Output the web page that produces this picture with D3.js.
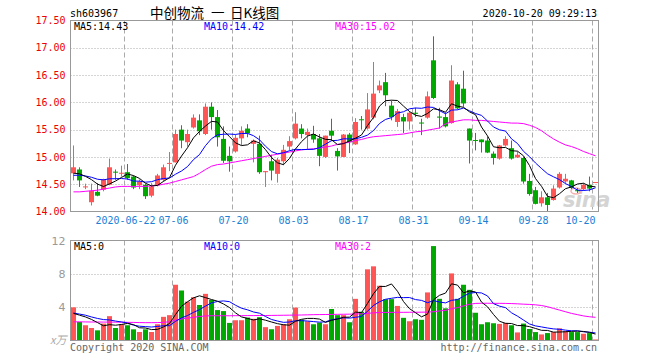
<!DOCTYPE html>
<html><head><meta charset="utf-8">
<script src="https://cdn.jsdelivr.net/npm/d3@7/dist/d3.min.js"></script>
<style>body{margin:0;background:#fff}svg{display:block}</style>
</head><body><svg id="c" width="660" height="360"></svg>
<script>
const dates = ["06-09","06-10","06-11","06-12","06-15","06-16","06-17","06-18","06-19","06-22","06-23","06-24","06-29","06-30",
"07-01","07-02","07-03","07-06","07-07","07-08","07-09","07-10","07-13","07-14","07-15","07-16","07-17","07-20","07-21","07-22","07-23","07-24","07-27","07-28","07-29","07-30","07-31",
"08-03","08-04","08-05","08-06","08-07","08-10","08-11","08-12","08-13","08-14","08-17","08-18","08-19","08-20","08-21","08-24","08-25","08-26","08-27","08-28","08-31",
"09-01","09-02","09-03","09-04","09-07","09-08","09-09","09-10","09-11","09-14","09-15","09-16","09-17","09-18","09-21","09-22","09-23","09-24","09-25","09-28","09-29","09-30",
"10-09","10-12","10-13","10-14","10-15","10-16","10-19","10-20"];
const open  = [14.70,14.77,14.45,14.17,14.36,14.40,14.49,14.73,14.70,14.72,14.64,14.48,14.49,14.29,14.48,14.58,14.88,14.90,15.50,15.27,15.54,15.67,15.42,15.92,15.73,15.33,15.02,15.10,15.34,15.52,15.24,15.24,14.72,14.92,14.69,14.92,15.19,15.34,15.52,15.40,15.42,15.34,15.00,15.48,15.11,15.00,15.41,15.23,15.69,15.52,15.72,16.22,16.37,15.94,15.64,15.73,15.65,15.81,15.63,15.72,16.77,15.74,15.73,15.62,16.33,16.25,15.52,15.31,15.32,15.30,15.06,14.97,15.21,15.16,14.99,14.98,14.56,14.39,14.15,14.26,14.21,14.44,14.55,14.57,14.39,14.41,14.49,14.54];
const high  = [15.21,14.81,14.51,14.51,14.52,14.60,14.97,14.77,14.84,14.87,14.66,14.59,14.51,14.52,14.69,14.86,15.09,15.50,15.58,15.50,15.78,15.78,15.98,16.00,15.86,15.56,15.19,15.41,15.56,15.60,15.32,15.39,14.74,15.04,14.98,15.22,15.38,15.82,15.60,15.52,15.57,15.42,15.39,15.70,15.16,15.42,15.44,15.71,15.75,16.17,16.74,16.40,16.54,16.03,15.88,15.79,15.84,15.90,15.70,16.20,17.21,15.90,15.81,16.68,16.37,16.58,15.52,15.44,15.32,15.37,15.10,15.22,15.38,15.30,15.10,15.00,14.69,14.45,14.37,14.34,14.48,14.72,14.69,14.58,14.43,14.52,14.64,14.54];
const low   = [14.57,14.45,14.41,14.11,14.28,14.37,14.48,14.58,14.64,14.58,14.41,14.41,14.23,14.26,14.46,14.55,14.74,14.90,15.16,15.19,15.52,15.40,15.40,15.50,15.19,14.89,14.73,15.08,15.21,15.36,14.90,14.69,14.45,14.57,14.53,14.85,15.12,15.32,15.34,15.13,15.26,14.83,14.98,15.29,14.75,15.00,15.07,15.22,15.50,15.50,15.69,16.17,15.93,15.67,15.55,15.44,15.50,15.73,15.40,15.70,16.06,15.52,15.54,15.61,15.87,15.92,14.88,15.12,15.08,15.07,14.86,14.95,15.19,14.95,14.98,14.51,14.29,14.13,14.09,14.01,14.20,14.42,14.51,14.41,14.34,14.38,14.37,14.54];
const close = [14.81,14.57,14.46,14.38,14.29,14.59,14.81,14.72,14.71,14.61,14.44,14.55,14.28,14.46,14.66,14.81,14.89,15.42,15.30,15.42,15.72,15.47,15.92,15.73,15.36,14.93,14.92,15.35,15.48,15.43,15.30,14.72,14.74,14.75,14.95,15.13,15.29,15.61,15.42,15.46,15.32,15.02,15.39,15.39,15.01,15.41,15.27,15.64,15.68,15.87,16.16,16.31,16.13,15.73,15.84,15.65,15.81,15.79,15.62,16.11,16.08,15.72,15.56,16.40,15.89,15.98,15.30,15.30,15.27,15.08,14.98,15.21,15.33,14.97,15.04,14.55,14.32,14.14,14.26,14.12,14.42,14.69,14.60,14.43,14.38,14.49,14.42,14.54];
const volume = [3.98,2.23,1.83,1.50,1.22,2.03,2.92,1.50,1.95,1.83,1.34,1.02,1.34,1.02,1.95,2.84,3.04,6.69,6.00,4.67,5.20,4.26,5.60,4.87,3.65,3.53,2.11,2.43,2.43,2.75,2.60,2.80,1.60,1.35,1.75,1.95,2.55,3.95,2.50,2.30,1.95,2.15,1.95,3.78,3.04,3.04,2.19,5.00,3.45,8.54,8.90,6.57,4.96,4.96,4.15,2.72,2.31,2.55,2.48,5.77,11.33,5.00,3.86,8.05,5.00,6.69,6.08,3.33,1.95,2.19,2.07,1.99,2.11,1.83,0.97,2.03,1.38,1.01,0.73,0.89,1.01,1.46,1.14,1.01,1.01,0.81,0.89,0.12];
// closes / volumes of the 9 sessions before the window (for the moving averages)
const prevClose  = [14.55,14.60,14.62,14.65,14.70,14.62,14.70,14.68,14.70];
const prevVolume = [3.5,3.2,3.6,3.0,3.4,3.3,2.9,3.0,3.1];
const priceMA30 = [14.36,14.36,14.37,14.38,14.39,14.41,14.43,14.45,14.46,14.46,14.46,14.46,14.46,14.47,14.48,14.50,14.52,14.55,14.58,14.61,14.64,14.70,14.77,14.83,14.86,14.87,14.89,14.91,14.93,14.95,14.97,14.99,15.01,15.03,15.05,15.07,15.09,15.11,15.13,15.14,15.15,15.16,15.18,15.20,15.23,15.25,15.27,15.30,15.32,15.35,15.37,15.38,15.39,15.40,15.41,15.42,15.44,15.46,15.47,15.49,15.51,15.53,15.61,15.64,15.66,15.68,15.68,15.67,15.67,15.66,15.65,15.64,15.63,15.62,15.62,15.61,15.58,15.54,15.48,15.40,15.33,15.27,15.22,15.19,15.15,15.10,15.06,15.02];
const volumeMA30 = [2.24,2.24,2.23,2.22,2.22,2.21,2.21,2.20,2.20,2.18,2.17,2.15,2.14,2.14,2.15,2.18,2.25,2.45,2.58,2.68,2.78,2.88,2.95,2.97,2.97,2.97,2.97,2.98,2.98,2.99,2.99,3.00,3.00,3.01,3.02,3.03,3.04,3.05,3.06,3.08,3.10,3.11,3.12,3.13,3.14,3.15,3.16,3.18,3.20,3.25,3.32,3.36,3.37,3.38,3.38,3.38,3.39,3.39,3.40,3.41,3.45,3.55,3.62,3.80,3.95,4.15,4.35,4.45,4.47,4.47,4.46,4.46,4.45,4.43,4.40,4.36,4.33,4.28,4.20,4.05,3.85,3.65,3.45,3.25,3.10,2.95,2.85,2.78];
const tickDates  = ["06-22","07-06","07-20","08-03","08-17","08-31","09-14","09-28","10-20"];
const tickLabels = ["2020-06-22","07-06","07-20","08-03","08-17","08-31","09-14","09-28","10-20"];
const priceTicks = [14.00,14.50,15.00,15.50,16.00,16.50,17.00,17.50];
const volumeTicks = [4,8,12];

const RED="#ff5555", GREEN="#00a800", GRID="#aaaaaa", FRAME="#999999";
const MONO="'DejaVu Sans Mono', 'Liberation Mono', monospace";
const svg = d3.select("#c");
const L=70.5, R=598.5, PT=20.5, PB=211.5, VT=240.5, VB=340.5;

const x = d3.scaleBand().domain(dates).range([70.5,598.5]).paddingInner(1/6).paddingOuter(1/12);
const bw = x.bandwidth();
const y = d3.scaleLinear().domain([14,17.5]).range([PB,PT]);
const yv = d3.scaleLinear().domain([0,12]).range([VB,VT]);

function ma(src, prev, n){
  const all = prev.concat(src), off = prev.length;
  return src.map((_,i)=> d3.mean(all.slice(i+off-n+1, i+off+1)));
}
const pMA5=ma(close,prevClose,5), pMA10=ma(close,prevClose,10);
const vMA5=ma(volume,prevVolume,5), vMA10=ma(volume,prevVolume,10);

// grids
const gx = d=> Math.round(x(d))-0.5;
[[PT,PB],[VT,VB]].forEach(([t,b])=>{
  svg.append("g").selectAll("line").data(tickDates).join("line")
    .attr("x1",gx).attr("x2",gx).attr("y1",t).attr("y2",b)
    .attr("stroke",GRID).attr("stroke-dasharray","5,3");
});
svg.append("g").selectAll("line").data(priceTicks.filter(v=>v>14&&v<17.5)).join("line")
  .attr("x1",L).attr("x2",R).attr("y1",d=>Math.round(y(d))+0.5).attr("y2",d=>Math.round(y(d))+0.5)
  .attr("stroke",GRID).attr("stroke-dasharray","1,2");
svg.append("g").selectAll("line").data(volumeTicks.filter(v=>v<12)).join("line")
  .attr("x1",L).attr("x2",R).attr("y1",d=>Math.round(yv(d))+0.5).attr("y2",d=>Math.round(yv(d))+0.5)
  .attr("stroke",GRID).attr("stroke-dasharray","1,2");

// watermark
const wm = svg.append("g");
wm.append("text").attr("x",563).attr("y",207).text("sina")
  .attr("font-family","'DejaVu Sans', sans-serif").attr("font-size",21).attr("font-weight","bold")
  .attr("font-style","italic").attr("fill","#d4d4d4").attr("letter-spacing","-0.5");
wm.append("ellipse").attr("cx",576).attr("cy",191).attr("rx",5).attr("ry",3)
  .attr("fill","none").attr("stroke","#f3b0b0").attr("stroke-width",1.5);

// candles
const idx = d3.range(dates.length);
const cg = svg.append("g");
cg.selectAll("line").data(idx).join("line")
  .attr("x1",i=>x(dates[i])+2.5).attr("x2",i=>x(dates[i])+2.5)
  .attr("y1",i=>y(high[i])).attr("y2",i=>y(low[i]))
  .attr("stroke",i=> close[i]>=open[i]?RED:GREEN);
cg.selectAll("rect").data(idx).join("rect")
  .attr("x",i=>x(dates[i])).attr("width",bw)
  .attr("y",i=>y(Math.max(open[i],close[i])))
  .attr("height",i=>Math.max(1, Math.abs(y(open[i])-y(close[i]))))
  .attr("fill",i=> close[i]>=open[i]?RED:GREEN);

// volume bars
svg.append("g").selectAll("rect").data(idx).join("rect")
  .attr("x",i=>x(dates[i])).attr("width",bw)
  .attr("y",i=>yv(volume[i])).attr("height",i=>VB-yv(volume[i]))
  .attr("fill",i=> close[i]>=open[i]?RED:GREEN);

// MA lines
function drawLine(vals, sc, color){
  svg.append("path").datum(vals)
    .attr("d", d3.line().x((d,i)=>x(dates[i])+2.5).y(d=>sc(d)))
    .attr("fill","none").attr("stroke",color).attr("stroke-width",1);
}
drawLine(priceMA30,y,"#ff00ff"); drawLine(pMA10,y,"#0000ff"); drawLine(pMA5,y,"#000000");
drawLine(volumeMA30,yv,"#ff00ff"); drawLine(vMA10,yv,"#0000ff"); drawLine(vMA5,yv,"#000000");

// frames
[[PT,PB],[VT,VB]].forEach(([t,b])=>{
  svg.append("rect").attr("x",L).attr("y",t).attr("width",R-L).attr("height",b-t)
    .attr("fill","none").attr("stroke",FRAME);
});

// axes labels
const yAxis = d3.axisLeft(y).tickValues(priceTicks).tickFormat(d3.format(".2f")).tickSize(0).tickPadding(5);
const ga = svg.append("g").attr("transform",`translate(${L},0)`).call(yAxis);
ga.select(".domain").remove();
ga.selectAll("text").attr("fill","#ee0000").attr("font-family",MONO).attr("font-size",10);

const vAxis = d3.axisLeft(yv).tickValues(volumeTicks).tickSize(0).tickPadding(5);
const gv = svg.append("g").attr("transform",`translate(${L},0)`).call(vAxis);
gv.select(".domain").remove();
gv.selectAll("text").attr("fill","#999999").attr("font-family","'DejaVu Sans', sans-serif").attr("font-size",11);

const xAxis = d3.axisBottom(x).tickValues(tickDates).tickFormat((d,i)=>tickLabels[i]).tickSize(0).tickPadding(5);
const gxA = svg.append("g").attr("transform",`translate(-2,${PB})`).call(xAxis);
gxA.select(".domain").remove();
gxA.selectAll("text").attr("fill","#1a80d8").attr("font-family",MONO).attr("font-size",10);
gxA.selectAll(".tick").filter((d,i,n)=>i===n.length-1).select("text").attr("text-anchor","end").attr("dx",2);

// header texts
const T = (t,xp,yp,opt={})=> svg.append("text").attr("x",xp).attr("y",yp).text(t)
  .attr("font-family",opt.ff||MONO).attr("font-size",opt.fs||10).attr("fill",opt.c||"#000")
  .attr("text-anchor",opt.a||"start").attr("font-style",opt.st||null);
const CJK = "'Noto Sans CJK SC', sans-serif";
T("sh603967",70,17);
T("中创物流",150,18,{ff:CJK,fs:13.5});
T("一",211,18,{ff:CJK,fs:13.5});
T("日K线图",230,18,{ff:CJK,fs:13.5});
T("2020-10-20 09:29:13",597,17,{a:"end"});
T("MA5:14.43",74,30); T("MA10:14.42",204,30,{c:"#0000ff"}); T("MA30:15.02",335,30,{c:"#ff00ff"});
T("MA5:0",74,250); T("MA10:0",204,250,{c:"#0000ff"}); T("MA30:2",335,250,{c:"#ff00ff"});
T("x万",50,344,{ff:CJK,fs:11,c:"#aaaaaa",st:"italic"});
T("Copyright 2020 SINA.COM",70,351,{c:"#666666"});
T("http://finance.sina.com.cn",597,351,{c:"#666666",a:"end"});
</script></body></html>
